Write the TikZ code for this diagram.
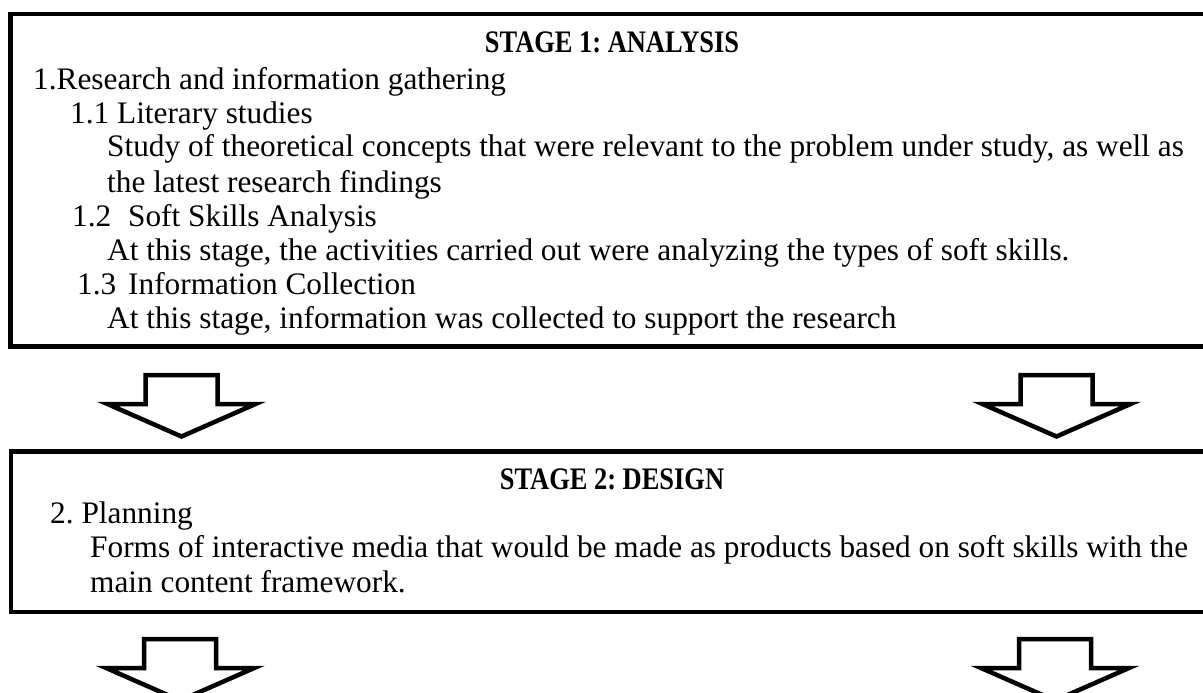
\documentclass[tikz,border=0pt]{standalone}
\usepackage{fontspec}
\setmainfont{Liberation Serif}
\usepackage{graphicx}
\frenchspacing
\begin{document}
\begin{tikzpicture}[x=1pt,y=-1pt,
  frame/.style={draw=black,line width=4.5pt,line join=miter},
  body/.style={anchor=base west,inner sep=0pt,font=\fontsize{31.3}{34}\selectfont},
  heading/.style={anchor=base,inner sep=0pt,font=\fontsize{31.3}{34}\selectfont\bfseries},
  blockarrow/.style={draw=black,fill=white,line width=4.5pt,line join=miter,miter limit=12},
  down arrow/.pic={
    \draw[blockarrow] (-36,0) -- (36,0) -- (36,29) -- (74,29) -- (0,61.5)
      -- (-74,29) -- (-36,29) -- cycle;
  }]
\path[use as bounding box] (0,0) rectangle (1203,693);
\clip (0,0) rectangle (1203,693);

% Stage 1 frame and its text
\draw[frame] (10.5,13.8) rectangle (1225,346.7);
\node[heading] (s1title) at (612,53) {\scalebox{0.845}[1]{STAGE 1: ANALYSIS}};
\node[body] (s1a) at (33,89)  {1.Research and information gathering};
\node[body] (s1b) at (70,123) {1.1 Literary studies};
\node[body] (s1c) at (107,157) {Study of theoretical concepts that were relevant to the problem under study, as well as};
\node[body] (s1d) at (107,192) {the latest research findings};
\node[body] (s1e) at (72,226) {\makebox[56pt][l]{1.2}Soft Skills Analysis};
\node[body] (s1f) at (107,260) {At this stage, the activities carried out were analyzing the types of soft skills.};
\node[body] (s1g) at (77,294) {\makebox[51pt][l]{1.3}Information Collection};
\node[body] (s1h) at (107,328) {At this stage, information was collected to support the research};

% Arrows between the stages
\pic (a1) at (181.5,375) {down arrow};
\pic (a2) at (1056.5,375) {down arrow};

% Stage 2 frame and its text
\draw[frame] (11,451.7) rectangle (1225,612);
\node[heading] (s2title) at (612,489) {\scalebox{0.845}[1]{STAGE 2: DESIGN}};
\node[body] (s2a) at (50,523) {2. Planning};
\node[body] (s2b) at (90,557) {Forms of interactive media that would be made as products based on soft skills with the};
\node[body] (s2c) at (90,592) {main content framework.};

% Arrows leading on from stage 2
\pic (a3) at (180.2,639) {down arrow};
\pic (a4) at (1055,639) {down arrow};
\end{tikzpicture}
\end{document}
